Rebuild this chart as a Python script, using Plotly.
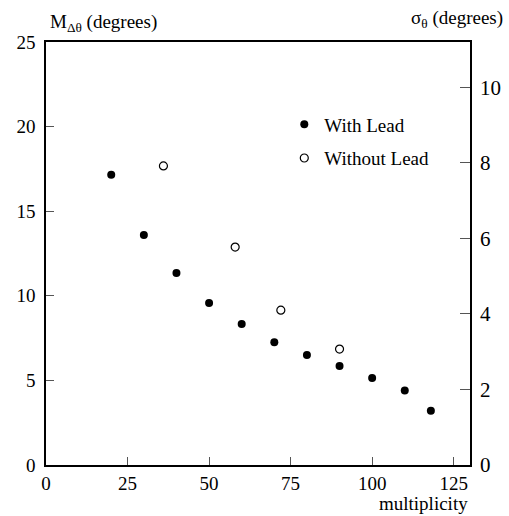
import plotly.graph_objects as go

mult_lead = [20, 30, 40, 50, 60, 70, 80, 90, 100, 110, 118]
m_lead = [17.15, 13.6, 11.35, 9.57, 8.33, 7.25, 6.5, 5.85, 5.14, 4.4, 3.2]

mult_nolead = [36, 58, 72, 90]
sigma_nolead = [7.92, 5.77, 4.1, 3.07]

x_ticks = [0, 25, 50, 75, 100, 125]
yl_ticks = [0, 5, 10, 15, 20, 25]
yr_ticks = [0, 2, 4, 6, 8, 10]

FONT = "Liberation Serif, Times New Roman, serif"

fig = go.Figure()
fig.add_trace(go.Scatter(
    x=mult_lead, y=m_lead, mode="markers", name="With Lead",
    marker=dict(symbol="circle", size=8, color="black"),
    legendgroup="a"))
fig.add_trace(go.Scatter(
    x=mult_nolead, y=sigma_nolead, mode="markers", name="Without Lead",
    marker=dict(symbol="circle-open", size=8, color="black", line=dict(width=1.2)),
    yaxis="y2", legendgroup="b"))

fig.update_layout(
    width=509, height=516,
    margin=dict(l=46, r=39, t=42, b=51, autoexpand=False),
    paper_bgcolor="white", plot_bgcolor="white",
    font=dict(family=FONT, size=19, color="black"),
    showlegend=True,
    legend=dict(x=0.562, y=0.85, xanchor="left", yanchor="top",
                font=dict(size=19, family=FONT), tracegroupgap=6,
                bgcolor="rgba(0,0,0,0)"),
    xaxis=dict(range=[0, 130], tickvals=x_ticks, ticks="inside", ticklen=8,
               showline=True, linecolor="black", linewidth=1.5, mirror=True,
               showgrid=False, zeroline=False, tickcolor="#555", automargin=False,
               tickfont=dict(size=19)),
    yaxis=dict(range=[0, 25], tickvals=yl_ticks, ticks="inside", ticklen=8,
               showline=True, linecolor="black", linewidth=1.5,
               showgrid=False, zeroline=False, tickcolor="#555", automargin=False,
               tickfont=dict(size=19), ticklabelstandoff=5),
    yaxis2=dict(range=[0, 11.2], tickvals=yr_ticks, ticks="inside", ticklen=10,
                overlaying="y", side="right",
                showline=True, linecolor="black", linewidth=1.5,
                showgrid=False, zeroline=False, tickcolor="#555",
                tickfont=dict(size=21), automargin=False, ticklabelstandoff=4),
    annotations=[
        dict(text="M<sub>Δθ</sub> (degrees)", xref="paper", yref="paper",
             x=0.005, y=1.012, xanchor="left", yanchor="bottom", showarrow=False,
             font=dict(size=19)),
        dict(text="σ<sub>θ</sub> (degrees)", xref="paper", yref="paper",
             x=1.083, y=1.022, xanchor="right", yanchor="bottom", showarrow=False,
             font=dict(size=19)),
        dict(text="multiplicity", xref="paper", yref="paper",
             x=1.0, y=-0.062, xanchor="right", yanchor="top", showarrow=False,
             font=dict(size=19)),
    ],
)

fig.write_html("out.html", post_script="document.body.style.margin='0';",
               config={"displayModeBar": False})
